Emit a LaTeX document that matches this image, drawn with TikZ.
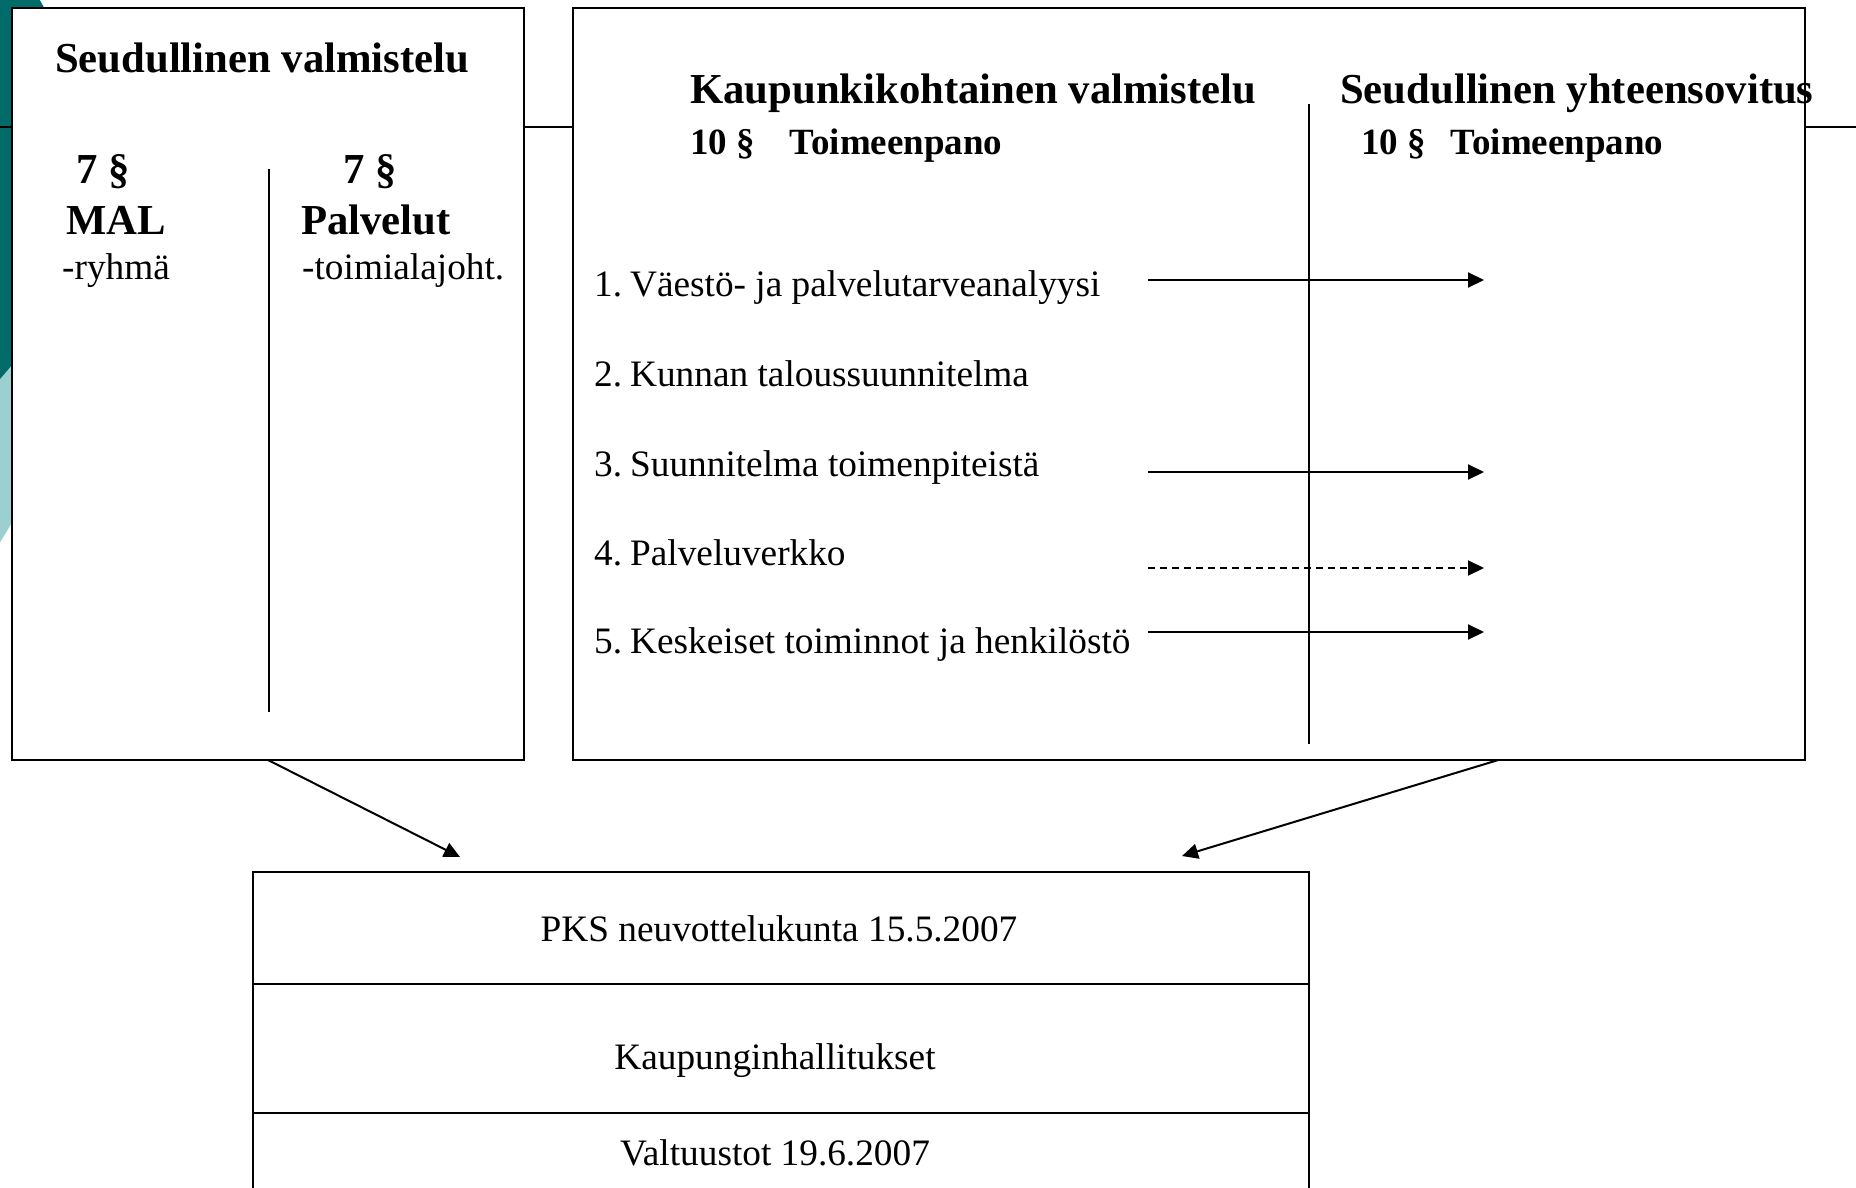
\documentclass[tikz,border=0pt]{standalone}
\usepackage{fontspec}
\setmainfont{Liberation Serif}
\usetikzlibrary{arrows.meta,calc}
\definecolor{tealdark}{HTML}{006B68}
\definecolor{teallight}{HTML}{9CCFCF}
\begin{document}
\begin{tikzpicture}[x=1pt,y=-1pt,
  frame/.style={draw=black, line width=2.2pt, fill=white, inner sep=0pt, outer sep=0pt},
  rule/.style={line width=1.8pt},
  flow/.style={line width=2pt, -{Triangle[length=16pt,width=15pt]}},
  head/.style={font=\bfseries\fontsize{42.7}{50}\selectfont, inner sep=0pt, anchor=base west},
  sub/.style={font=\bfseries\fontsize{37}{44}\selectfont, inner sep=0pt, anchor=base west},
  item/.style={font=\fontsize{37.3}{44}\selectfont, inner sep=0pt, anchor=base west},
  mid/.style={font=\fontsize{37.3}{44}\selectfont, inner sep=0pt, anchor=base}
]
\useasboundingbox (0,0) rectangle (1856,1187);
\clip (0,0) rectangle (1856,1187);
% template decoration
\fill[teallight] (-250,380) circle (298);
\fill[tealdark] (-242,162) circle (325);
\draw[line width=2pt] (0,127) -- (1856,127);
% boxes
\node[frame, minimum width=512pt, minimum height=752pt] (left) at (268,384) {};
\node[frame, minimum width=1232pt, minimum height=752pt] (right) at (1189,384) {};
\node[frame, minimum width=1056pt, minimum height=428pt] (bottom) at (781,1086) {};
% dividers
\draw[rule] (269,169) -- (269,712);
\draw[rule] (1309,104) -- (1309,744);
\draw[rule] (253,984) -- (1309,984);
\draw[rule] (253,1113) -- (1309,1113);
% left box text
\node[head] (lh) at (55,72) {Seudullinen valmistelu};
\node[head] (l7a) at (76,183) {7 §};
\node[head] (lmal) at (66,234) {MAL};
\node[item] (lry) at (62,279) {-ryhmä};
\node[head] (l7b) at (343,183) {7 §};
\node[head] (lpal) at (301,234) {Palvelut};
\node[item] (ltoi) at (302,279) {-toimialajoht.};
% right box text
\node[head] (kh) at (690,103) {Kaupunkikohtainen valmistelu};
\node[sub] (k10) at (690,154) {10 §\hspace{35pt}Toimeenpano};
\node[head] (sh) at (1340,103) {Seudullinen yhteensovitus};
\node[sub] (s10) at (1361,154) {10 §\hspace{25pt}Toimeenpano};
\node[item] (i1) at (594,296) {1.\hspace{8pt}Väestö- ja palvelutarveanalyysi};
\node[item] (i2) at (594,386) {2.\hspace{8pt}Kunnan taloussuunnitelma};
\node[item] (i3) at (594,476) {3.\hspace{8pt}Suunnitelma toimenpiteistä};
\node[item] (i4) at (594,565) {4.\hspace{8pt}Palveluverkko};
\node[item] (i5) at (594,653) {5.\hspace{8pt}Keskeiset toiminnot ja henkilöstö};
% horizontal arrows
\coordinate (a1s) at (1148,280); \coordinate (a1e) at (1484,280);
\coordinate (a3s) at (1148,472); \coordinate (a3e) at (1484,472);
\coordinate (a4s) at (1148,568); \coordinate (a4e) at (1484,568);
\coordinate (a5s) at (1148,632); \coordinate (a5e) at (1484,632);
\draw[flow] (a1s) -- (a1e);
\draw[flow] (a3s) -- (a3e);
\draw[flow, dash pattern=on 7pt off 5pt] (a4s) -- (a4e);
\draw[flow] (a5s) -- (a5e);
% bottom box text
\node[mid] (b1) at (779,941) {PKS neuvottelukunta 15.5.2007};
\node[mid] (b2) at (775,1069) {Kaupunginhallitukset};
\node[mid] (b3) at (775,1165) {Valtuustot 19.6.2007};
% diagonal arrows
\coordinate (lsrc) at (left.south);
\coordinate (rsrc) at ($(right.south west)!0.751!(right.south east)$);
\coordinate (ltip) at (460,857);
\coordinate (rtip) at (1182,856);
\draw[flow] (lsrc) -- (ltip);
\draw[flow] (rsrc) -- (rtip);
\end{tikzpicture}
\end{document}
